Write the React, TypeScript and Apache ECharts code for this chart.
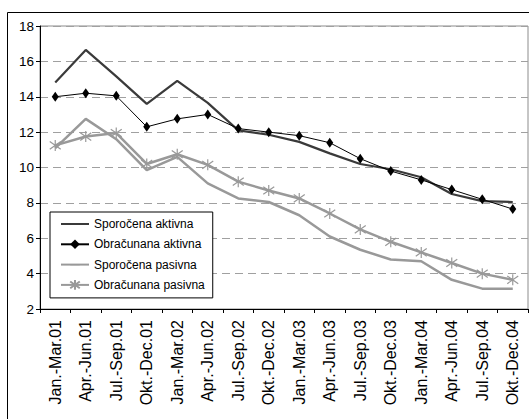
import React, { useEffect, useRef } from "react";
import * as echarts from "echarts";

const categories = [
  "Jan.-Mar.01", "Apr.-Jun.01", "Jul.-Sep.01", "Okt.-Dec.01",
  "Jan.-Mar.02", "Apr.-Jun.02", "Jul.-Sep.02", "Okt.-Dec.02",
  "Jan.-Mar.03", "Apr.-Jun.03", "Jul.-Sep.03", "Okt.-Dec.03",
  "Jan.-Mar.04", "Apr.-Jun.04", "Jul.-Sep.04", "Okt.-Dec.04",
];
const sporocenaAktivna = [14.8, 16.65, 15.15, 13.6, 14.9, 13.65, 12.1, 11.85, 11.45, 10.8, 10.2, 9.9, 9.45, 8.5, 8.1, 8.05];
const obracunanaAktivna = [14.0, 14.2, 14.05, 12.3, 12.75, 13.0, 12.2, 12.0, 11.8, 11.4, 10.5, 9.8, 9.3, 8.75, 8.2, 7.65];
const sporocenaPasivna = [11.1, 12.75, 11.6, 9.85, 10.6, 9.1, 8.25, 8.05, 7.3, 6.1, 5.35, 4.8, 4.7, 3.65, 3.15, 3.15];
const obracunanaPasivna = [11.25, 11.75, 11.95, 10.2, 10.75, 10.15, 9.2, 8.7, 8.25, 7.4, 6.5, 5.8, 5.2, 4.6, 4.0, 3.65];
const seriesNames = ["Sporočena aktivna", "Obračunana aktivna", "Sporočena pasivna", "Obračunana pasivna"];

const FONT = "'Liberation Sans', Arial, sans-serif";
// thin horizontal bar inside a square bounding box (tiny corner specks keep the box square)
const NO_SYMBOL = "path://M0 0L0.01 0L0 0.01Z M0 4.4L10 4.4L10 5.6L0 5.6Z M10 10L9.99 10L10 9.99Z";

export default function App() {
  const ref = useRef<HTMLDivElement>(null);
  useEffect(() => {
    if (!ref.current) return;
    const chart = echarts.init(ref.current, null, { renderer: "svg" });
    chart.setOption({
      animation: false,
      backgroundColor: "#ffffff",
      textStyle: { fontFamily: FONT },
      graphic: [
        {
          type: "rect",
          shape: { x: 7.5, y: 12.5, width: 540, height: 430 },
          style: { fill: "none", stroke: "#000", lineWidth: 1 },
          silent: true,
          z: 100,
        },
      ],
      grid: {
        left: 40, right: 1, top: 26, bottom: 110,
        show: true, borderColor: "#8c8c8c", borderWidth: 1,
        backgroundColor: "#ffffff",
      },
      legend: {
        left: 50, top: 212, orient: "vertical",
        padding: [6, 8, 7, 10],
        itemWidth: 28, itemHeight: 12, itemGap: 8.3,
        borderColor: "#000", borderWidth: 1, backgroundColor: "#fff",
        textStyle: { fontFamily: FONT, fontSize: 12, color: "#000" },
        data: seriesNames,
      },
      xAxis: {
        type: "category",
        data: categories,
        boundaryGap: true,
        axisLine: { lineStyle: { color: "#000", width: 1 } },
        axisTick: { show: true, length: 4, inside: false, lineStyle: { color: "#000" } },
        axisLabel: { rotate: 90, fontSize: 16, color: "#000", margin: 11, fontFamily: FONT, interval: 0 },
        splitLine: { show: false },
      },
      yAxis: {
        type: "value",
        min: 2, max: 18, interval: 2,
        axisLine: { show: true, lineStyle: { color: "#000", width: 1 } },
        axisTick: { show: true, length: 4, lineStyle: { color: "#000" } },
        axisLabel: { fontSize: 13.5, color: "#000", margin: 6, fontFamily: FONT },
        splitLine: { show: true, lineStyle: { color: "#a0a0a0", type: [8, 5], width: 1 } },
      },
      series: [
        {
          name: seriesNames[0], type: "line", data: sporocenaAktivna,
          symbol: NO_SYMBOL, showSymbol: false,
          lineStyle: { color: "#3a3a3a", width: 2.2 },
          itemStyle: { color: "#3a3a3a" }, z: 3,
        },
        {
          name: seriesNames[1], type: "line", data: obracunanaAktivna,
          symbol: "diamond", symbolSize: [7, 10],
          lineStyle: { color: "#000", width: 1 },
          itemStyle: { color: "#000" }, z: 4,
        },
        {
          name: seriesNames[2], type: "line", data: sporocenaPasivna,
          symbol: NO_SYMBOL, showSymbol: false,
          lineStyle: { color: "#999", width: 2.5 },
          itemStyle: { color: "#999" }, z: 2,
        },
        {
          name: seriesNames[3], type: "line", data: obracunanaPasivna,
          symbol: "path://M5 0L5 10M0 1.5L10 8.5M0 8.5L10 1.5", symbolSize: 11,
          lineStyle: { color: "#999", width: 2.5 },
          itemStyle: { color: "rgba(0,0,0,0)", borderColor: "#999", borderWidth: 1.2 }, z: 2,
        },
      ],
    });
    return () => chart.dispose();
  }, []);
  return <div ref={ref} style={{ position: "absolute", left: 0, top: 0, width: 529, height: 419 }} />;
}
